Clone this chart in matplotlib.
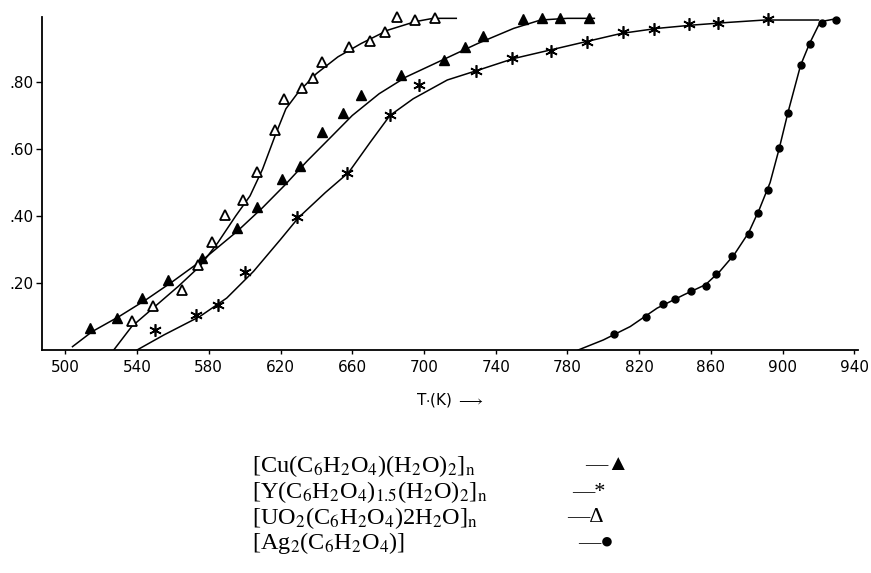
import matplotlib
matplotlib.use("Agg")
import matplotlib.pyplot as plt

# ----- data (T in K, fraction decomposed) -----------------------------------

# [Cu(C6H2O4)(H2O)2]n  -- filled triangles
cu_T = [514, 529, 543, 557, 576, 596, 607, 621, 631, 643, 655, 665, 687, 711, 723, 733, 755, 766, 776, 792]
cu_a = [0.066, 0.096, 0.155, 0.209, 0.275, 0.364, 0.427, 0.510, 0.549, 0.651, 0.707, 0.761,
        0.821, 0.866, 0.904, 0.937, 0.988, 0.990, 0.990, 0.992]
cu_curve_T = [504, 515, 530, 545, 560, 578, 596, 610, 622, 635, 648, 660, 675, 690, 710, 730, 750, 765, 780, 795]
cu_curve_a = [0.01, 0.055, 0.10, 0.15, 0.205, 0.275, 0.355, 0.425, 0.49, 0.565, 0.635, 0.70,
              0.765, 0.815, 0.865, 0.915, 0.96, 0.985, 0.99, 0.99]

# [Y(C6H2O4)1.5(H2O)2]n  -- asterisks
y_T = [550, 573, 585, 600, 629, 657, 681, 697, 729, 749, 771, 791, 811, 828, 848, 864, 892]
y_a = [0.060, 0.104, 0.134, 0.233, 0.397, 0.528, 0.701, 0.791, 0.833, 0.872, 0.893, 0.919,
       0.949, 0.958, 0.973, 0.976, 0.988]
y_curve_T = [540, 555, 575, 590, 605, 620, 630, 645, 658, 670, 681, 694, 713, 730, 750, 770, 790,
             810, 830, 850, 870, 890, 920]
y_curve_a = [0.0, 0.045, 0.10, 0.155, 0.235, 0.33, 0.395, 0.47, 0.53, 0.62, 0.70, 0.75, 0.806,
             0.835, 0.87, 0.895, 0.92, 0.945, 0.96, 0.97, 0.978, 0.985, 0.985]

# [UO2(C6H2O4)2H2O]n  -- open triangles
uo_T = [537, 549, 565, 574, 582, 589, 599, 607, 617, 622, 632, 638, 643, 658, 670, 678, 685, 695, 706]
uo_a = [0.087, 0.131, 0.179, 0.254, 0.322, 0.403, 0.448, 0.531, 0.657, 0.749, 0.782, 0.812,
        0.860, 0.904, 0.922, 0.949, 0.994, 0.985, 0.990]
uo_curve_T = [527, 537, 550, 563, 575, 585, 595, 603, 610, 617, 623, 630, 640, 652, 665, 680, 695, 705, 718]
uo_curve_a = [0.0, 0.07, 0.13, 0.19, 0.25, 0.32, 0.40, 0.46, 0.54, 0.64, 0.72, 0.77, 0.825,
              0.875, 0.915, 0.955, 0.98, 0.99, 0.99]

# [Ag2(C6H2O4)]  -- filled circles
ag_T = [806, 824, 833, 840, 849, 857, 863, 872, 881, 886, 892, 898, 903, 910, 915, 922, 930]
ag_a = [0.048, 0.099, 0.137, 0.152, 0.176, 0.191, 0.227, 0.281, 0.346, 0.409, 0.478, 0.603,
        0.707, 0.851, 0.913, 0.976, 0.985]
ag_curve_T = [786, 800, 815, 830, 845, 857, 865, 873, 881, 887, 893, 898, 903, 910, 915, 921, 931]
ag_curve_a = [0.0, 0.03, 0.07, 0.125, 0.165, 0.195, 0.235, 0.285, 0.35, 0.42, 0.50, 0.60,
              0.71, 0.85, 0.915, 0.98, 0.99]

x_ticks = [500, 540, 580, 620, 660, 700, 740, 780, 820, 860, 900, 940]
y_ticks = [0.20, 0.40, 0.60, 0.80]
y_tick_labels = [".20", ".40", ".60", ".80"]

legend_names = [
    r"[Cu(C$_6$H$_2$O$_4$)(H$_2$O)$_2$]$_{\mathrm{n}}$",
    r"[Y(C$_6$H$_2$O$_4$)$_{1.5}$(H$_2$O)$_2$]$_{\mathrm{n}}$",
    r"[UO$_2$(C$_6$H$_2$O$_4$)2H$_2$O]$_{\mathrm{n}}$",
    r"[Ag$_2$(C$_6$H$_2$O$_4$)]",
]
legend_symbols = ["\u2014\u25B2", "\u2014*", "\u2014\u0394", "\u2014\u25CF"]

# ----- figure ---------------------------------------------------------------

plt.rcParams["mathtext.fontset"] = "stix"

fig = plt.figure(figsize=(8.71, 5.73), dpi=100)
ax = fig.add_axes([42 / 871, 1 - 350 / 573, (858 - 42) / 871, (350 - 17) / 573])

lw = 1.1
ax.plot(cu_curve_T, cu_curve_a, color="black", lw=lw)
ax.plot(y_curve_T, y_curve_a, color="black", lw=lw)
ax.plot(uo_curve_T, uo_curve_a, color="black", lw=lw)
ax.plot(ag_curve_T, ag_curve_a, color="black", lw=lw)

ax.plot(cu_T, cu_a, ls="none", marker="^", ms=7, color="black", clip_on=False)
ax.plot(y_T, y_a, ls="none", marker=(6, 2, 0), ms=9, mew=1.2, color="black", clip_on=False)
ax.plot(uo_T, uo_a, ls="none", marker="^", ms=7, mfc="white", mec="black", mew=1.3, clip_on=False)
ax.plot(ag_T, ag_a, ls="none", marker="o", ms=5, color="black", clip_on=False)

ax.set_xlim(487, 942)
ax.set_ylim(0, 0.994)
ax.set_xticks(x_ticks)
ax.set_yticks(y_ticks)
ax.set_yticklabels(y_tick_labels)
for s in ("top", "right"):
    ax.spines[s].set_visible(False)
ax.spines["left"].set_linewidth(1.3)
ax.spines["bottom"].set_linewidth(1.3)
ax.tick_params(axis="x", length=3, width=1, pad=4, labelsize=11)
ax.tick_params(axis="y", length=4, width=1, pad=2, labelsize=11)

ax.set_xlabel(r"T$\cdot$(K) $\longrightarrow$", fontsize=11, labelpad=12)

# legend block below the chart
rows_y = [466, 492, 518, 543]
sym_x = [585, 572, 567, 578]
for name, sym, yy, sx in zip(legend_names, legend_symbols, rows_y, sym_x):
    fig.text(252 / 871, 1 - yy / 573, name, fontsize=17.5, family="Liberation Serif",
             va="center", ha="left")
    fig.text(sx / 871, 1 - yy / 573, sym, fontsize=16,
             family=["Liberation Serif", "DejaVu Sans"], va="center", ha="left")

fig.savefig("out.png", dpi=100)
